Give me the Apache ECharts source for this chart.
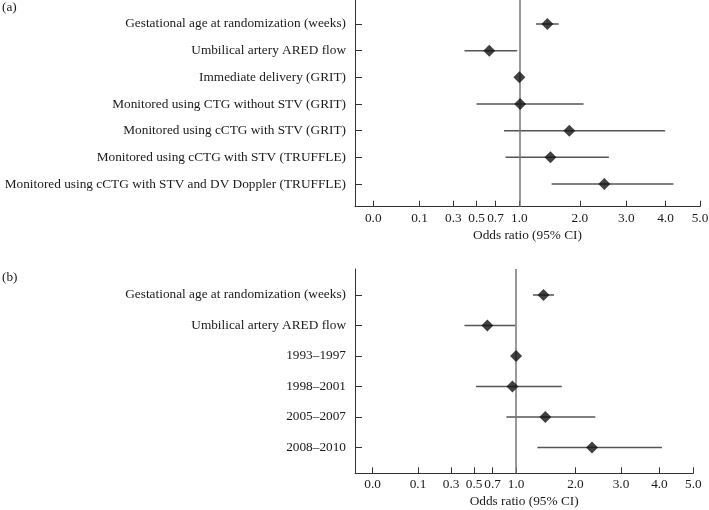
<!DOCTYPE html>
<html>
<head>
<meta charset="utf-8">
<script src="https://cdn.jsdelivr.net/npm/echarts@6/dist/echarts.min.js"></script>
<style>html,body{margin:0;padding:0;background:#fff;}#c{width:709px;height:510px;}</style>
</head>
<body>
<div id="c"></div>
<script>
// Panel (a)
const catsA = [
  'Gestational age at randomization (weeks)',
  'Umbilical artery ARED flow',
  'Immediate delivery (GRIT)',
  'Monitored using CTG without STV (GRIT)',
  'Monitored using cCTG with STV (GRIT)',
  'Monitored using cCTG with STV (TRUFFLE)',
  'Monitored using cCTG with STV and DV Doppler (TRUFFLE)'
];
const orA = [1.42, 0.63, 1.00, 1.01, 1.80, 1.47, 2.50];
const loA = [1.24, 0.39, null, 0.50, 0.80, 0.82, 1.49];
const hiA = [1.61, 0.97, null, 2.07, 3.99, 2.60, 4.22];

// Panel (b)
const catsB = [
  'Gestational age at randomization (weeks)',
  'Umbilical artery ARED flow',
  '1993\u20131997',
  '1998\u20132001',
  '2005\u20132007',
  '2008\u20132010'
];
const orB = [1.42, 0.64, 1.00, 0.95, 1.45, 2.34];
const loB = [1.25, 0.41, null, 0.52, 0.87, 1.32];
const hiB = [1.60, 0.99, null, 1.74, 2.41, 4.07];

// x-axis tick labels (square-root scaled axis)
const xTicks = [0, 0.1, 0.3, 0.5, 0.7, 1, 2, 3, 4, 5];
const refValue = 1;

const FONT = 'Liberation Serif';
const FS = 13.3;
const TXT = '#1a1a1a';
const sq = Math.sqrt;

function ciData(lo, hi) {
  const out = [];
  lo.forEach((l, i) => { if (l != null && hi[i] != null) out.push([sq(l), sq(hi[i]), i + 1]); });
  return out;
}
function ptData(or) { return or.map((v, i) => [sq(v), i + 1]); }

function xAxisCfg(gi, min) {
  return {
    type: 'value', gridIndex: gi, min: min, max: sq(5),
    name: 'Odds ratio (95% CI)', nameLocation: 'middle', nameGap: 22,
    nameTextStyle: { fontFamily: FONT, fontSize: FS, color: TXT },
    splitLine: { show: false },
    axisLine: { show: true, onZero: false, lineStyle: { color: '#333', width: 1 } },
    axisTick: { show: true, inside: true, length: 6, customValues: xTicks.map(sq), lineStyle: { color: '#333' } },
    axisLabel: { customValues: xTicks.map(sq), margin: 5, fontFamily: FONT, fontSize: FS, color: TXT,
      formatter: v => (Math.round(v * v * 10) / 10).toFixed(1) }
  };
}
function yAxisCfg(gi, cats, min, max) {
  const vals = cats.map((c, i) => i + 1);
  return {
    type: 'value', gridIndex: gi, inverse: true, min: min, max: max,
    splitLine: { show: false },
    axisLine: { show: true, onZero: false, lineStyle: { color: '#333', width: 1 } },
    axisTick: { show: true, inside: true, length: 7, customValues: vals, lineStyle: { color: '#333' } },
    axisLabel: { customValues: vals, margin: 9, fontFamily: FONT, fontSize: FS, color: TXT,
      formatter: v => cats[Math.round(v) - 1] || '' }
  };
}
function ciSeries(xi, data) {
  return {
    type: 'custom', xAxisIndex: xi, yAxisIndex: xi, data: data, silent: true,
    encode: { x: [0, 1], y: 2 },
    renderItem: (params, api) => {
      const p1 = api.coord([api.value(0), api.value(2)]);
      const p2 = api.coord([api.value(1), api.value(2)]);
      return { type: 'line', shape: { x1: p1[0], y1: p1[1], x2: p2[0], y2: p2[1] },
        style: { stroke: '#555', lineWidth: 1.5 } };
    }
  };
}
function ptSeries(xi, data) {
  return {
    type: 'scatter', xAxisIndex: xi, yAxisIndex: xi, data: data, symbol: 'diamond', symbolSize: 12,
    itemStyle: { color: '#111' }, silent: true, z: 5,
    markLine: { silent: true, symbol: 'none', label: { show: false },
      lineStyle: { color: '#777', width: 1.5, type: 'solid' },
      data: [{ xAxis: sq(refValue) }] }
  };
}

const chart = echarts.init(document.getElementById('c'));
chart.setOption({
  animation: false,
  title: [
    { text: '(a)', left: 0, top: 0, textStyle: { fontFamily: FONT, fontSize: FS, fontWeight: 'normal', color: TXT }, padding: [1, 2] },
    { text: '(b)', left: 0, top: 270, textStyle: { fontFamily: FONT, fontSize: FS, fontWeight: 'normal', color: TXT }, padding: [1, 2] }
  ],
  grid: [
    { left: 355, right: 9, top: 0, bottom: 303.3, containLabel: false, outerBoundsMode: 'none' },
    { left: 355, right: 15.7, top: 269, bottom: 36.7, containLabel: false, outerBoundsMode: 'none' }
  ],
  xAxis: [xAxisCfg(0, -0.125), xAxisCfg(1, -0.123)],
  yAxis: [yAxisCfg(0, catsA, 0.1, 7.85), yAxisCfg(1, catsB, 0.147, 6.85)],
  series: [
    ciSeries(0, ciData(loA, hiA)),
    ptSeries(0, ptData(orA)),
    ciSeries(1, ciData(loB, hiB)),
    ptSeries(1, ptData(orB))
  ]
});
</script>
</body>
</html>
